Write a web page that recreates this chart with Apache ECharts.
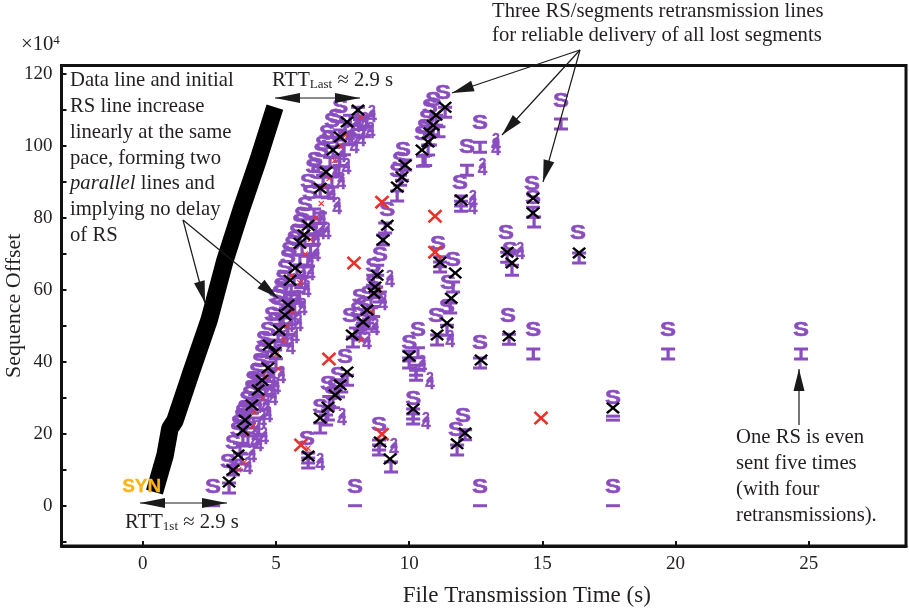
<!DOCTYPE html>
<html><head><meta charset="utf-8">
<style>html,body{margin:0;padding:0;background:#fff}#c{width:909px;height:610px}</style>
<script src="https://cdn.jsdelivr.net/npm/echarts@6/dist/echarts.min.js"></script>
</head><body><div id="c"></div>
<script>
var xTicks=[0,5,10,15,20,25];
var yLabels=[0,20,40,60,80,100,120];
var yTicks=[-10,0,10,20,30,40,50,60,70,80,90,100,110,120];
var dataLine=[[0.44,3.8],[0.84,14.1],[1.02,21.5],[1.2,23.5],[1.78,36.3],[2.49,51.6],[3.09,68.3],[3.69,82.2],[4.33,96.1],[4.96,110.8]];
var synMark=[[-0.04,5.2]];
var sMarks=[[2.64,5.2],[3.2,12.1],[3.39,17.4],[3.57,21],[3.73,24.7],[3.76,25.8],[3.92,29.4],[4.03,30.8],[4.1,32.7],[4.29,37.2],[4.48,42.7],[4.55,46.1],[4.7,48.8],[4.85,53],[4.97,51.6],[5.08,55.8],[5.27,63.3],[5.34,66.1],[5.45,69.1],[5.53,57.2],[5.61,72.5],[5.79,76.1],[5.9,78.8],[5.98,80.8],[6.09,83.6],[6.28,86.9],[6.47,96.1],[6.58,92.5],[6.77,100.3],[6.92,103.6],[7.1,106.7],[7.41,110.6],
[4.3,34.5],[4.4,40],[4.62,44],[5.15,59],[5.2,61],[5.7,74],[6.2,90],[6.4,94],[6.7,98.5],[7,102],[7.25,108],[3.6,23],[3.85,27],[4.15,35],[5,58],[5.5,71],
[6.66,27.4],[6.17,18.3],[7.1,30.8],[7.59,41.3],[7.33,36.3],[6.95,33.6],[7.78,52.5],[8.28,55.8],[8.08,54.4],[8.65,61.9],[8.65,66.4],[8.91,69.7],[9.18,82.2],[9.55,92.8],[9.77,98.9],[9.66,96.1],[8.46,58.6],[7.2,33],[8.15,58],[8.25,51],
[7.97,5.2],[12.66,5.2],[17.65,5.2],[8.87,22.2],[10.15,29.4],[12.02,24.9],[11.76,21],[17.65,29.7],[10,45.2],[10.33,48.6],[11.01,52.5],[11.42,55],[11.46,61.9],[11.08,72.5],[11.65,68.3],[12.66,45.2],[13.71,52.5],[14.66,48.6],[19.72,48.6],[24.71,48.6],
[11.27,114.5],[10.9,112.8],[10.78,110.6],[10.67,107.8],[10.48,103.1],[10.59,105.3],[12.66,106.4],[12.17,99.7],[11.91,89.7],[15.7,112.5],[14.61,89.2],[14.65,85.5],[13.64,75.8],[13.79,71.1],[16.34,75.8]];
var beamMarks=[[3.24,4.9],[3.39,9.9],[3.5,11.3],[3.65,16],[3.76,18.3],[3.88,21.6],[3.99,24.4],[4.1,27.2],[4.22,29.4],[4.33,31.6],[4.44,33.8],[4.55,36.1],[4.7,38.6],[4.85,42.5],[4.97,44.7],[5.08,46.9],[5.16,49.1],[5.27,51.3],[5.38,53.6],[5.49,55.8],[5.57,58],[5.57,60],[5.68,62.7],[5.79,65.5],[5.9,68.3],[5.98,71.1],[6.09,73.9],[6.21,76.6],[6.32,78.9],[6.43,81.1],[6.66,87.2],[6.77,90.5],[6.88,92.8],[7.03,95.5],[7.14,98.3],[7.29,101.1],[7.41,103.1],[7.59,105.3],[7.78,107.2],[8.08,109.4],
[3.7,13],[3.95,18],[4.15,23],[4.4,28],[4.6,32],[4.75,36],[5,39.5],[5.3,46],[5.45,49],[5.55,52],[5.7,55],[5.85,58],[5.95,62],[6.05,65],[6.2,68],[6.3,71],[6.4,74],[6.5,77],[6.65,80],[6.95,87],[7.1,90],[7.25,93],[7.4,96],[7.55,99],[7.75,102],[7.9,104.5],[8.15,106],[8.4,107],[8.3,104],
[6.66,21.6],[6.95,25.2],[6.88,23.8],[7.14,28.6],[7.33,31.6],[7.67,34.9],[6.21,11.9],[6.21,13.3],[7.89,45.5],[8.27,49.4],[8.16,47.5],[8.42,52.2],[8.57,56.4],[8.76,59.4],[8.65,62.7],[8.8,65.5],[9.1,77.2],[9.02,73.9],[9.55,86.1],[9.66,90.5],[9.85,94.7],[9.73,91.9],[7,29],[7.45,33],[8,48],[8.5,50.5],[8.65,54],[8.9,58],
[8.87,15.5],[8.87,16.9],[9.32,10.8],[10.15,24.1],[10.15,25.5],[12.1,19.7],[11.8,15.5],[12.66,39.7],[13.75,46.3],[14.66,42.2],[19.72,42.2],[24.71,42.2],[10.33,42.5],[10,39.7],[10,41.6],[10.26,36.3],[10.26,37.7],[11.05,46.1],[11.42,48.8],[11.54,55],[11.65,60.8],[11.16,66.4],[11.16,67.8],
[11.35,109.4],[11.01,107.2],[10.9,104.4],[10.78,101.7],[10.71,98.9],[10.52,95.8],[11.1,104],[10.6,96],[12.66,99.7],[12.17,93.3],[11.95,83.3],[11.95,84.7],[15.7,106.1],[14.69,78.9],[14.65,81.6],[13.68,69.1],[13.86,65.5],[16.38,68.9]];
var flatMarks=[[2.64,0],[7.97,0],[12.66,0],[17.65,0],[17.65,24.9],[17.65,23.8]];
var digitMarks=[[3.95,10.8],[4.22,18.3],[4.29,21],[4.48,23.8],[4.63,28],[4.78,32.2],[4.85,35.5],[5.35,46.1],[5.53,50.2],[5.64,53],[5.83,57.2],[6.02,62.7],[6.28,67.7],[6.51,73.9],[6.73,79.4],[7.1,86.4],[7.29,93.3],[7.48,97.5],[7.78,103.1],[8.04,105.8],[8.34,106.7],[8.6,108.6],
[4.1,14],[4.35,17],[4.55,19],[4.7,25],[4.9,30],[5,33],[5.2,36],[5.55,44],[5.7,47],[5.85,50.5],[6,55],[6.15,60],[6.3,64.5],[6.5,70],[6.7,76],[6.9,76],[7.3,83],[7.45,90],[7.65,94],[7.95,100],[8.2,102],[8.55,104],
[7.48,24.4],[6.66,11.9],[8.72,49.4],[8.42,45.5],[9.28,62.7],[9.02,56.4],[9.43,16],[10.63,23.3],[10.49,39.1],[10.78,34.4],[11.54,46.1],[13.26,99.5],[13.26,100.8],[12.75,93.9],[12.39,83],[12.39,85],[14.17,70.5]];
var redSmall=[[3.6,10],[3.8,12],[3.9,20],[4.1,22],[4.2,26],[4.5,30],[4.6,36],[5,42],[5.1,38],[5.3,46],[5.4,50],[5.6,54],[5.6,64],[5.9,62],[6.1,70],[6.3,74],[6.5,80],[6.7,84],[6.8,89],[7,91],[7.2,96],[7.4,100],[7.6,103],[8.2,108],[6.2,16],[8.2,46],[8.6,54],[8.9,60]];
var redMarks=[[6.99,40.8],[5.94,16.9],[8.98,19.9],[14.95,24.4],[8.98,84.4],[10.97,80.5],[10.97,70.5],[7.93,67.5]];
var blackMarks=[[3.24,6.6],[3.39,9.9],[3.58,14.1],[3.76,21],[3.84,23.8],[4.1,28],[4.33,32.2],[4.48,34.9],[4.7,38.3],[4.74,44.7],[4.97,42.7],[5.12,48.8],[5.34,53],[5.45,55.8],[5.53,62.7],[5.72,66.1],[5.9,73],[6.05,75.3],[6.21,78],[6.66,88.3],[6.88,92.8],[7.14,98.9],[7.41,102.5],[7.67,106.7],[8.08,110],
[6.66,24.4],[6.95,27.4],[7.22,30.8],[7.41,33.6],[7.67,37.2],[6.21,13.8],[7.86,47.5],[8.27,51.1],[8.42,54.4],[8.68,59.1],[8.8,64.1],[8.72,60.8],[9.02,73.9],[9.18,78],[9.55,88.6],[9.73,91.4],[9.85,94.7],
[8.91,17.7],[9.28,13],[10.15,26.9],[12.1,20.2],[11.8,17.2],[12.7,40.5],[13.75,47.2],[17.65,27.2],[10,41.6],[11.05,47.5],[11.42,50.8],[11.58,57.7],[11.73,64.7],[11.16,67.7],
[11.35,110.8],[11.01,108.6],[10.9,105.8],[10.78,103.6],[10.71,101.1],[10.48,98.9],[11.95,85],[14.65,85.5],[14.65,81.4],[13.68,70.5],[13.86,67.5],[16.38,70.3]];

var PURPLE='#8a4dbf', INK='#231f20', SERIF='"Liberation Serif"';
var BEAM='path://M0 0H14V3H8.6V10H14V13H0V10H5.4V3H0Z';
var CROSS='path://M1.8 0L7 5.2L12.2 0L14 1.8L8.8 7L14 12.2L12.2 14L7 8.8L1.8 14L0 12.2L5.2 7L0 1.8Z';
function dots(data,symbol,size,color,z){return {type:'scatter',data:data,symbol:symbol,symbolSize:size,z:z,silent:true,itemStyle:{color:color,opacity:1}};}
function glyphs(data,text,font,color,z,dy,sx,sw){return {type:'custom',data:data,z:z,silent:true,clip:false,encode:{x:0,y:1},
  renderItem:function(p,api){var c=api.coord([api.value(0),api.value(1)]);
    return {type:'text',x:c[0],y:c[1]+(dy||0),scaleX:sx||1,style:{text:text,font:font,fill:color,stroke:color,lineWidth:sw||0,align:'center',verticalAlign:'middle'}};}};}

var chart=echarts.init(document.getElementById('c'),null,{renderer:'canvas'});
var option={animation:false,backgroundColor:'#fff',
 grid:{left:61.5,right:3,top:65.5,bottom:64,show:true,borderColor:'#111',borderWidth:3,outerBoundsMode:'none'},
 xAxis:{type:'value',min:-3.05,max:28.65,name:'File Transmission Time (s)',nameLocation:'middle',nameGap:38,
   nameTextStyle:{fontFamily:SERIF,fontSize:23,color:INK,padding:[0,0,0,86]},splitLine:{show:false},
   axisLine:{show:true,onZero:false,lineStyle:{color:'#111',width:3}},
   axisTick:{show:true,inside:true,length:5,customValues:xTicks,lineStyle:{color:'#111',width:2}},
   axisLabel:{customValues:xTicks,fontFamily:SERIF,fontSize:19,color:INK,margin:9}},
 yAxis:{type:'value',min:-11.2,max:122.4,name:'Sequence Offset',nameLocation:'middle',nameGap:36,nameMoveOverlap:false,
   nameTextStyle:{fontFamily:SERIF,fontSize:22,color:INK},splitLine:{show:false},
   axisLine:{show:true,onZero:false,lineStyle:{color:'#111',width:3}},
   axisTick:{show:true,inside:true,length:5,customValues:yTicks,lineStyle:{color:'#111',width:2}},
   axisLabel:{customValues:yLabels,fontFamily:SERIF,fontSize:19,color:INK,margin:9}},
 series:[
  {type:'line',data:dataLine,showSymbol:false,z:2,silent:true,lineStyle:{color:'#000',width:17.5,cap:'butt',join:'bevel'}},
  dots(flatMarks,'rect',[14,3],PURPLE,3),
  dots(beamMarks,BEAM,[14,13],PURPLE,3),
  glyphs(sMarks,'S','bold 20px "Liberation Sans"',PURPLE,4,0,1.2,0.5),
  glyphs(digitMarks,'4','bold 17px "Liberation Sans"',PURPLE,4,2,1,0.4),
  glyphs(digitMarks,'2','bold 14px "Liberation Sans"',PURPLE,4,-4,1,0.3),
  dots(redSmall,CROSS,6,'#e8322a',5),
  dots(redMarks,CROSS,[15,14],'#e8322a',6),
  dots(blackMarks,CROSS,[14,12],'#000',7),
  glyphs(synMark,'SYN','bold 18px "Liberation Sans"','#fcb316',8,0,1.05,0.3)
 ]};
chart.setOption(option);

var F='20.7px '+SERIF;
function tx(x,y,text,extra){var st={text:text,x:x,y:y,font:F,fill:INK,verticalAlign:'middle',align:'left'};for(var k in extra)st[k]=extra[k];return {type:'text',z:20,silent:true,style:st};}
var subRich={b:{font:F,fill:INK},s:{font:'13px '+SERIF,fill:INK,verticalAlign:'bottom',padding:[8,0,0,0]},i:{font:'italic '+F,fill:INK},u:{font:'13px '+SERIF,fill:INK,padding:[0,0,8,0]}};
function arrowHead(tip,from,len,hw){var dx=tip[0]-from[0],dy=tip[1]-from[1],L=Math.sqrt(dx*dx+dy*dy);dx/=L;dy/=L;
  return {type:'polygon',z:21,silent:true,shape:{points:[tip,[tip[0]-dx*len-dy*hw,tip[1]-dy*len+dx*hw],[tip[0]-dx*len+dy*hw,tip[1]-dy*len-dx*hw]]},style:{fill:'#1a1a1a'}};}
function arrow(from,tip,both){var out=[{type:'line',z:21,silent:true,shape:{x1:from[0],y1:from[1],x2:tip[0],y2:tip[1]},style:{stroke:'#1a1a1a',lineWidth:1.2}},arrowHead(tip,from,both?25:22,both?5:5.5)];
  if(both)out.push(arrowHead(from,tip,25,5));return out;}
var els=[];
['Data line and initial','RS line increase','linearly at the same','pace, forming two'].forEach(function(t,i){els.push(tx(70,81+i*25.8,t));});
els.push(tx(70,184,'{i|parallel}{b| lines and}',{rich:subRich}));
els.push(tx(70,210,'implying no delay'));els.push(tx(70,236,'of RS'));
els.push(tx(272,81,'{b|RTT}{s|Last}{b| ≈ 2.9 s}',{rich:subRich}));
els.push(tx(125,523,'{b|RTT}{s|1st}{b| ≈ 2.9 s}',{rich:subRich}));
els.push(tx(492,12,'Three RS/segments retransmission lines'));
els.push(tx(492,36,'for reliable delivery of all lost segments'));
['One RS is even','sent five times','(with four','retransmissions).'].forEach(function(t,i){els.push(tx(736,438+i*25.8,t));});
els.push(tx(21,45,'{b|×10}{u|4}',{rich:subRich}));
els=els.concat(arrow([275,98],[360,98],true),arrow([140,503],[227,503],true),
 arrow([183,220],[205,303]),arrow([183,220],[278,298]),
 arrow([580,50],[452,93]),arrow([580,50],[502,135]),arrow([580,50],[543,182]),arrow([799,425],[799,369]));
chart.setOption({graphic:{elements:els}});
</script></body></html>
